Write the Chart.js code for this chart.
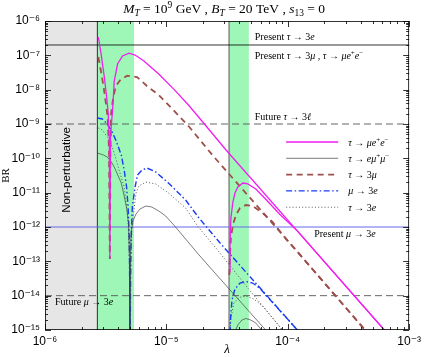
<!DOCTYPE html>
<html>
<head>
<meta charset="utf-8">
<script src="https://cdn.jsdelivr.net/npm/chart.js@4.4.0/dist/chart.umd.min.js"></script>
<style>
  html, body { margin: 0; padding: 0; background: #fff; }
  #wrap { width: 425px; height: 357px; }
</style>
</head>
<body>
<div id="wrap"><canvas id="brChart"></canvas></div>
<script>
'use strict';

// axes
const xTickValues = [1e-6, 1e-5, 1e-4, 1e-3];
const xTickLabels = ['10⁻⁶', '10⁻⁵', '10⁻⁴', '10⁻³'];
const yTickValues = [1e-15, 1e-14, 1e-13, 1e-12, 1e-11, 1e-10, 1e-9, 1e-8, 1e-7, 1e-6];
const yTickLabels = ['10⁻¹⁵', '10⁻¹⁴', '10⁻¹³', '10⁻¹²', '10⁻¹¹', '10⁻¹⁰', '10⁻⁹', '10⁻⁸', '10⁻⁷', '10⁻⁶'];

// shaded regions and cuts (lambda)
const nonPertBand = [1e-6, 2.7e-6];
const greenBands = [[2.7e-6, 5.41e-6], [3.28e-5, 4.78e-5]];
const cutLines = [2.7e-6, 3.28e-5];

// experimental limits (BR)
const presentTauLimit = 2e-7;
const futureTauLimit = 1e-9;
const presentMuLimit = 1e-12;
const futureMuLimit = 1e-14;

// tau -> mu e+ e-
const tauMuEE1 = [
    [2.75e-6, 3.42e-7], [2.90e-6, 1.09e-7], [3.08e-6, 2.34e-8], [3.22e-6, 6.11e-9],
    [3.32e-6, 1.95e-9], [3.39e-6, 3.42e-10], [3.42e-6, 1.17e-13], [3.46e-6, 3.42e-10],
    [3.52e-6, 9.35e-10], [3.60e-6, 2.39e-9], [3.72e-6, 1.79e-8], [3.96e-6, 5.58e-8],
    [4.35e-6, 9.56e-8], [4.93e-6, 1.15e-7], [5.52e-6, 1.02e-7], [6.53e-6, 6.84e-8],
    [8.65e-6, 2.86e-8], [1.15e-5, 1.04e-8], [1.52e-5, 3.57e-9], [2.09e-5, 9.35e-10],
    [3.10e-5, 1.75e-10], [1.65e-4, 2.13e-13], [7.82e-4, 4.04e-16]
];
const tauMuEE2 = [
    [3.30e-5, 4.89e-14], [3.34e-5, 2.99e-13], [3.40e-5, 1.82e-12], [3.53e-5, 5.35e-12],
    [3.67e-5, 9.77e-12], [3.88e-5, 1.46e-11], [4.27e-5, 1.91e-11], [4.69e-5, 1.79e-11],
    [5.45e-5, 1.28e-11], [6.56e-5, 6.53e-12], [8.54e-5, 2.39e-12], [1.20e-4, 7.70e-13],
    [1.65e-4, 2.13e-13], [7.82e-4, 4.04e-16]
];

// tau -> e mu+ mu-
const tauEMuMu1 = [
    [2.70e-6, 1.43e-10], [3.03e-6, 1.25e-10], [3.26e-6, 1.09e-10], [3.52e-6, 7.82e-11],
    [3.72e-6, 5.58e-11], [4.01e-6, 3.05e-11], [4.25e-6, 1.91e-11], [4.49e-6, 7.98e-12],
    [4.74e-6, 3.13e-12], [4.88e-6, 1.14e-12], [4.97e-6, 1.09e-13], [4.99e-6, 1.33e-16],
    [5.05e-6, 1.09e-13], [5.12e-6, 7.14e-13], [5.31e-6, 1.49e-12], [5.62e-6, 2.39e-12],
    [6.06e-6, 3.34e-12], [6.78e-6, 4.08e-12], [7.59e-6, 3.82e-12], [8.65e-6, 2.92e-12],
    [9.87e-6, 2.09e-12], [1.19e-5, 1.00e-12], [1.83e-5, 1.63e-13], [2.43e-5, 5.22e-14],
    [6.57e-5, 1.00e-15], [9.92e-5, 1.87e-16]
];
const tauEMuMu2 = [
    [3.53e-5, 3.65e-16], [3.67e-5, 8.73e-16], [3.88e-5, 1.40e-15], [4.19e-5, 1.95e-15],
    [4.51e-5, 2.16e-15], [4.96e-5, 1.95e-15], [5.45e-5, 1.60e-15], [6.09e-5, 1.00e-15],
    [6.57e-5, 6.67e-16]
];

// tau -> 3 mu
const tau3Mu1 = [
    [2.75e-6, 8.93e-8], [2.90e-6, 3.27e-8], [3.04e-6, 1.20e-8], [3.18e-6, 3.82e-9],
    [3.28e-6, 1.60e-9], [3.37e-6, 1.75e-10], [3.42e-6, 1.17e-13], [3.46e-6, 1.75e-10],
    [3.50e-6, 1.95e-9], [3.65e-6, 6.11e-9], [3.84e-6, 1.28e-8], [4.22e-6, 2.04e-8],
    [4.78e-6, 2.55e-8], [5.73e-6, 2.34e-8], [6.91e-6, 1.28e-8], [8.65e-6, 6.99e-9],
    [1.10e-5, 2.92e-9], [1.52e-5, 8.74e-10], [2.43e-5, 1.17e-10], [1.13e-4, 2.44e-13],
    [7.82e-4, 8.91e-17]
];
const tau3Mu2 = [
    [3.30e-5, 3.99e-14], [3.34e-5, 1.53e-13], [3.40e-5, 4.78e-13], [3.53e-5, 1.14e-12],
    [3.74e-5, 2.23e-12], [4.04e-5, 3.57e-12], [4.51e-5, 4.37e-12], [5.14e-5, 4.08e-12],
    [6.21e-5, 2.55e-12], [7.49e-5, 1.40e-12], [9.93e-5, 4.00e-13], [1.13e-4, 2.44e-13],
    [7.82e-4, 8.91e-17]
];

// mu -> 3e
const mu3E1 = [
    [2.70e-6, 1.49e-9], [2.97e-6, 1.40e-9], [3.26e-6, 1.00e-9], [3.58e-6, 5.85e-10],
    [3.86e-6, 3.20e-10], [4.25e-6, 1.25e-10], [4.49e-6, 4.57e-11], [4.70e-6, 1.46e-11],
    [4.84e-6, 3.82e-12], [4.95e-6, 4.18e-13], [4.99e-6, 1.46e-14], [5.02e-6, 1.33e-16],
    [5.06e-6, 1.46e-14], [5.12e-6, 4.18e-13], [5.24e-6, 3.82e-12], [5.52e-6, 1.46e-11],
    [5.78e-6, 3.27e-11], [6.29e-6, 4.57e-11], [6.91e-6, 5.22e-11], [8.18e-6, 4.00e-11],
    [1.04e-5, 1.91e-11], [1.44e-5, 6.11e-12], [1.83e-5, 1.95e-12], [2.77e-5, 3.41e-13],
    [1.20e-4, 1.00e-15], [1.74e-4, 2.28e-16]
];
const mu3E2 = [
    [3.31e-5, 3.65e-16], [3.37e-5, 1.95e-15], [3.47e-5, 7.46e-15], [3.67e-5, 1.56e-14],
    [4.04e-5, 2.33e-14], [4.51e-5, 2.58e-14], [5.14e-5, 2.33e-14], [5.98e-5, 1.56e-14],
    [6.82e-5, 9.12e-15], [1.20e-4, 1.00e-15], [1.74e-4, 2.28e-16]
];

// tau -> 3e
const tau3E1 = [
    [2.75e-6, 7.64e-10], [2.97e-6, 6.68e-10], [3.39e-6, 3.42e-10], [3.72e-6, 1.43e-10],
    [4.08e-6, 4.57e-11], [4.49e-6, 1.46e-11], [4.66e-6, 5.00e-12], [4.84e-6, 1.40e-12],
    [4.96e-6, 1.09e-13], [5.00e-6, 1.33e-16], [5.07e-6, 1.09e-13], [5.21e-6, 1.14e-12],
    [5.41e-6, 3.13e-12], [5.62e-6, 9.77e-12], [5.94e-6, 1.56e-11], [6.78e-6, 2.04e-11],
    [8.18e-6, 1.79e-11], [1.04e-5, 9.77e-12], [1.44e-5, 3.57e-12], [1.83e-5, 1.00e-12],
    [2.52e-5, 2.61e-13], [4.69e-5, 1.67e-14], [9.04e-5, 1.00e-15], [1.20e-4, 2.99e-16]
];
const tau3E2 = [
    [3.32e-5, 3.65e-16], [3.40e-5, 2.23e-15], [3.60e-5, 6.11e-15], [3.96e-5, 8.83e-15],
    [4.51e-5, 9.77e-15], [5.24e-5, 7.98e-15], [6.21e-5, 4.99e-15], [9.04e-5, 1.00e-15],
    [1.20e-4, 2.99e-16]
];

const SERIF = "'Liberation Serif', 'DejaVu Serif', serif";
const SANS = "'Liberation Sans', Arial, 'DejaVu Sans', sans-serif";

const styleTauMuEE = { borderColor: '#f01ef0', borderWidth: 1.3 };
const styleTauEMuMu = { borderColor: '#444444', borderWidth: 0.7 };
const styleTau3Mu = { borderColor: '#9e4f4a', borderWidth: 1.8, borderDash: [6, 4.5] };
const styleMu3E = { borderColor: '#1a3cf5', borderWidth: 1.4, borderDash: [6, 2.5, 1.5, 2.5] };
const styleTau3E = { borderColor: '#555555', borderWidth: 1, borderDash: [1, 2.2] };

function series(points, style) {
    return Object.assign({
        data: points.map(([x, y]) => ({ x, y })),
        showLine: true,
        pointRadius: 0,
        fill: false
    }, style);
}

function hLine(value, style) {
    const xs = [xTickValues[0], xTickValues[xTickValues.length - 1]];
    return series(xs.map(x => [x, value]), style);
}

function vLine(value, style) {
    const ys = [yTickValues[0], yTickValues[yTickValues.length - 1]];
    return series(ys.map(y => [value, y]), style);
}

function logTicks(decades) {
    const out = [];
    decades.forEach((d, i) => {
        if (i === decades.length - 1) {
            out.push(d);
            return;
        }
        for (let m = 1; m <= 9; m++) out.push(m * d);
    });
    return out;
}

function decadeIndex(list, value) {
    return list.findIndex(v => Math.abs(v - value) / v < 1e-6);
}

// rich text: [text, style] with style r / i / sup / sub / isub
function drawRich(ctx, parts, x, y, size, align) {
    const fontFor = (st) => {
        const small = st === 'sup' || st === 'sub' || st === 'isub';
        const it = st === 'i' || st === 'isub' ? 'italic ' : '';
        return it + (small ? size * 0.7 : size) + 'px ' + SERIF;
    };
    let w = 0;
    parts.forEach(([t, st]) => { ctx.font = fontFor(st); w += ctx.measureText(t).width; });
    let cx = align === 'center' ? x - w / 2 : x;
    ctx.textAlign = 'left';
    ctx.textBaseline = 'alphabetic';
    parts.forEach(([t, st]) => {
        ctx.font = fontFor(st);
        let dy = 0;
        if (st === 'sup') dy = -size * 0.38;
        if (st === 'sub' || st === 'isub') dy = size * 0.22;
        ctx.fillText(t, cx, y + dy);
        cx += ctx.measureText(t).width;
    });
}

const titleParts = [
    ['M', 'i'], ['T', 'isub'], [' = 10', 'r'], ['9', 'sup'], [' GeV , ', 'r'],
    ['B', 'i'], ['T', 'isub'], [' = 20 TeV , ', 'r'], ['s', 'i'], ['13', 'sub'], [' = 0', 'r']
];

// [parts, x anchor (lambda), limit (BR), pixel offset of baseline]
const limitLabels = [
    [[['Present ', 'r'], ['τ', 'i'], [' → 3', 'r'], ['e', 'i']], 5.35e-5, presentTauLimit, -5],
    [[['Present ', 'r'], ['τ', 'i'], [' → 3', 'r'], ['μ', 'i'], [' , ', 'r'], ['τ', 'i'], [' → ', 'r'],
      ['μe', 'i'], ['+', 'sup'], ['e', 'i'], ['−', 'sup']], 5.35e-5, presentTauLimit, 14],
    [[['Future ', 'r'], ['τ', 'i'], [' → 3', 'r'], ['ℓ', 'i']], 5.35e-5, futureTauLimit, -4],
    [[['Present ', 'r'], ['μ', 'i'], [' → 3', 'r'], ['e', 'i']], 1.65e-4, presentMuLimit, 10],
    [[['Future ', 'r'], ['μ', 'i'], [' → 3', 'r'], ['e', 'i']], 1.21e-6, futureMuLimit, 9]
];

const legendRows = [
    [['τ', 'i'], [' → ', 'r'], ['μe', 'i'], ['+', 'sup'], ['e', 'i'], ['−', 'sup']],
    [['τ', 'i'], [' → ', 'r'], ['eμ', 'i'], ['+', 'sup'], ['μ', 'i'], ['−', 'sup']],
    [['τ', 'i'], [' → 3', 'r'], ['μ', 'i']],
    [['μ', 'i'], [' → 3', 'r'], ['e', 'i']],
    [['τ', 'i'], [' → 3', 'r'], ['e', 'i']]
];

const regionsPlugin = {
    id: 'regions',
    beforeDatasetsDraw(chart) {
        const { ctx, chartArea: a, scales: { x } } = chart;
        ctx.save();
        ctx.fillStyle = '#e6e6e6';
        const g0 = x.getPixelForValue(nonPertBand[0]);
        const g1 = x.getPixelForValue(nonPertBand[1]);
        ctx.fillRect(g0, a.top, g1 - g0, a.bottom - a.top);
        ctx.fillStyle = '#9ef7b6';
        greenBands.forEach(([lo, hi]) => {
            const p0 = x.getPixelForValue(lo);
            const p1 = x.getPixelForValue(hi);
            ctx.fillRect(p0, a.top, p1 - p0, a.bottom - a.top);
        });
        ctx.restore();
    },
    afterDatasetsDraw(chart) {
        const { ctx, chartArea: a, scales: { x, y } } = chart;
        ctx.save();
        ctx.strokeStyle = '#000';
        ctx.lineWidth = 0.8;
        ctx.beginPath();
        x.ticks.forEach(t => {
            const px = Math.round(x.getPixelForValue(t.value)) + 0.5;
            const len = decadeIndex(xTickValues, t.value) >= 0 ? 6 : 3;
            ctx.moveTo(px, a.bottom); ctx.lineTo(px, a.bottom - len);
            ctx.moveTo(px, a.top); ctx.lineTo(px, a.top + len);
        });
        y.ticks.forEach(t => {
            const py = Math.round(y.getPixelForValue(t.value)) + 0.5;
            const len = decadeIndex(yTickValues, t.value) >= 0 ? 6 : 3;
            ctx.moveTo(a.left, py); ctx.lineTo(a.left + len, py);
            ctx.moveTo(a.right, py); ctx.lineTo(a.right - len, py);
        });
        ctx.stroke();
        ctx.strokeRect(a.left + 0.5, a.top + 0.5, a.right - a.left - 1, a.bottom - a.top - 1);

        // non-perturbative label
        ctx.save();
        ctx.translate(a.left + 22, 170);
        ctx.rotate(-Math.PI / 2);
        ctx.fillStyle = '#000';
        ctx.font = '11.5px ' + SANS;
        ctx.textAlign = 'center';
        ctx.textBaseline = 'middle';
        ctx.fillText('Non-perturbative', 0, 0);
        ctx.restore();

        // limit labels
        ctx.fillStyle = '#000';
        limitLabels.forEach(([parts, lx, lim, off]) => {
            drawRich(ctx, parts, x.getPixelForValue(lx), y.getPixelForValue(lim) + off, 10, 'left');
        });

        // legend
        const ds = chart.data.datasets;
        legendRows.forEach((parts, i) => {
            const st = ds[i * 2];
            const ly = a.top + 121 + i * 16.3;
            ctx.save();
            ctx.strokeStyle = st.borderColor;
            ctx.lineWidth = st.borderWidth;
            ctx.setLineDash(st.borderDash || []);
            ctx.beginPath();
            ctx.moveTo(a.right - 123, ly);
            ctx.lineTo(a.right - 71, ly);
            ctx.stroke();
            ctx.restore();
            drawRich(ctx, parts, a.right - 61, ly + 3.5, 10, 'left');
        });

        // title
        drawRich(ctx, titleParts, (a.left + a.right) / 2 - 3, 13, 13.5, 'center');
        ctx.restore();
    }
};

const limitStyleSolid = { borderColor: '#000', borderWidth: 0.8 };
const limitStyleDash = { borderColor: '#555', borderWidth: 0.9, borderDash: [7, 4] };

const datasets = [
    series(tauMuEE1, styleTauMuEE), series(tauMuEE2, styleTauMuEE),
    series(tauEMuMu1, styleTauEMuMu), series(tauEMuMu2, styleTauEMuMu),
    series(tau3Mu1, styleTau3Mu), series(tau3Mu2, styleTau3Mu),
    series(mu3E1, styleMu3E), series(mu3E2, styleMu3E),
    series(tau3E1, styleTau3E), series(tau3E2, styleTau3E),
    hLine(presentTauLimit, limitStyleSolid),
    hLine(futureTauLimit, limitStyleDash),
    hLine(presentMuLimit, { borderColor: '#6868ea', borderWidth: 1 }),
    hLine(futureMuLimit, limitStyleDash),
    vLine(cutLines[0], limitStyleSolid),
    vLine(cutLines[1], { borderColor: '#333', borderWidth: 0.8 })
];

const ctx = document.getElementById('brChart').getContext('2d');
new Chart(ctx, {
    type: 'scatter',
    data: { datasets },
    options: {
        responsive: true,
        maintainAspectRatio: false,
        animation: false,
        layout: { padding: { top: 21, right: 12, left: 0, bottom: 0 } },
        plugins: {
            legend: { display: false },
            tooltip: { enabled: false }
        },
        elements: { line: { tension: 0 } },
        scales: {
            x: {
                type: 'logarithmic',
                min: xTickValues[0],
                max: xTickValues[xTickValues.length - 1],
                afterBuildTicks: (scale) => { scale.ticks = logTicks(xTickValues).map(v => ({ value: v })); },
                afterFit: (scale) => { scale.height = 27; },
                grid: { display: false, drawTicks: false },
                border: { display: false },
                ticks: {
                    autoSkip: false,
                    maxRotation: 0,
                    padding: 4,
                    color: '#000',
                    font: { family: SANS, size: 12 },
                    callback: (value) => {
                        const i = decadeIndex(xTickValues, value);
                        return i >= 0 ? xTickLabels[i] : '';
                    }
                },
                title: { display: true, text: 'λ', color: '#000', padding: 0, font: { family: SERIF, size: 13, style: 'italic' } }
            },
            y: {
                type: 'logarithmic',
                min: yTickValues[0],
                max: yTickValues[yTickValues.length - 1],
                afterBuildTicks: (scale) => { scale.ticks = logTicks(yTickValues).map(v => ({ value: v })); },
                afterFit: (scale) => { scale.width = 45; },
                grid: { display: false, drawTicks: false },
                border: { display: false },
                ticks: {
                    autoSkip: false,
                    padding: 5,
                    color: '#000',
                    font: { family: SANS, size: 12 },
                    callback: (value) => {
                        const i = decadeIndex(yTickValues, value);
                        return i >= 0 ? yTickLabels[i] : '';
                    }
                },
                title: { display: true, text: 'BR', color: '#000', padding: 0, font: { family: SERIF, size: 11 } }
            }
        }
    },
    plugins: [regionsPlugin]
});
</script>
</body>
</html>
